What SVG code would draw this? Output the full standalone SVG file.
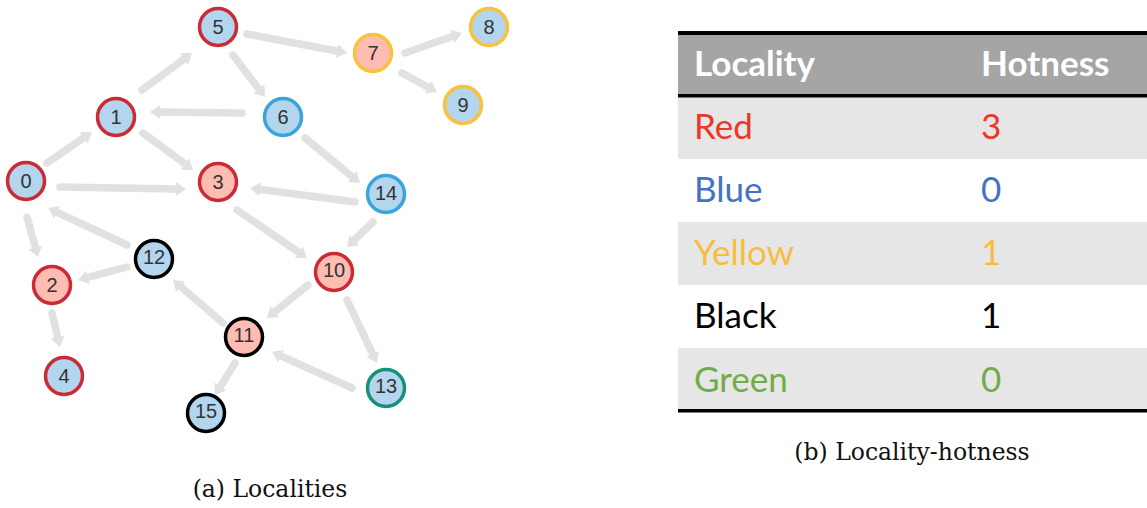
<svg xmlns="http://www.w3.org/2000/svg" width="1147" height="508" viewBox="0 0 1147 508">
<style>
.edge{fill:none;stroke:#e1e1e1;stroke-width:7.5;stroke-linecap:round;marker-end:url(#ah)}
.n circle{stroke-width:3.5}
.n text{font-family:"Liberation Sans",Arial,sans-serif;font-size:20px;fill:#333;text-anchor:middle}
.blue{fill:#b3d5ee}
.pink{fill:#ffbcb3}
.sr{stroke:#cc2a36}
.sy{stroke:#f8c23a}
.sb{stroke:#3aa4db}
.sk{stroke:#000}
.sg{stroke:#17917a}
.tt{font-family:Lato,"Open Sans",sans-serif;font-size:35px}
.cap{font-family:"DejaVu Serif","Liberation Serif",serif;font-size:23.5px;fill:#111;text-anchor:middle}
</style>
<defs>
<marker id="ah" markerUnits="userSpaceOnUse" markerWidth="14" markerHeight="16" viewBox="0 -8 11 16" refX="1" refY="0" orient="auto">
<path d="M0,-7 L10,0 L0,7 Z" fill="#e1e1e1"/>
</marker>
</defs>
<rect width="1147" height="508" fill="#fff"/>
<g id="connectors">
<path class="edge" d="M47,163 L84.6,137.1"/>
<path class="edge" d="M142,90 L184.8,58.4"/>
<path class="edge" d="M242,113 L159,112.1"/>
<path class="edge" d="M143,133 L185.8,164.6"/>
<path class="edge" d="M60,187 L177,188.9"/>
<path class="edge" d="M247,34 L338.2,51.3"/>
<path class="edge" d="M233,55 L259.5,89.8"/>
<path class="edge" d="M405,53 L453.5,36"/>
<path class="edge" d="M402,73 L429.1,87.7"/>
<path class="edge" d="M305,138 L353,177.3"/>
<path class="edge" d="M355,202 L258.9,189.2"/>
<path class="edge" d="M237,210 L299.6,252.9"/>
<path class="edge" d="M373,222 L353.5,240.8"/>
<path class="edge" d="M308,285 L274,312.4"/>
<path class="edge" d="M347,300 L373.1,354.9"/>
<path class="edge" d="M352,388 L280.2,355.7"/>
<path class="edge" d="M223,323 L179.8,285.9"/>
<path class="edge" d="M235,363 L219.8,387.4"/>
<path class="edge" d="M127,245 L56.2,211.8"/>
<path class="edge" d="M127,267 L86.7,277.7"/>
<path class="edge" d="M27,217 L35.6,248.3"/>
<path class="edge" d="M52,313 L57.9,338.2"/>
</g>
<g id="node0" class="n"><circle cx="26" cy="181" r="18.5" class="blue sr"/><text x="26" y="188">0</text></g>
<g id="node1" class="n"><circle cx="116" cy="117" r="18.5" class="blue sr"/><text x="116" y="124">1</text></g>
<g id="node2" class="n"><circle cx="52" cy="285" r="18.5" class="pink sr"/><text x="52" y="292">2</text></g>
<g id="node3" class="n"><circle cx="218" cy="182" r="18.5" class="pink sr"/><text x="218" y="189">3</text></g>
<g id="node4" class="n"><circle cx="64" cy="376" r="18.5" class="blue sr"/><text x="64" y="383">4</text></g>
<g id="node5" class="n"><circle cx="218" cy="27" r="18.5" class="blue sr"/><text x="218" y="34">5</text></g>
<g id="node6" class="n"><circle cx="283" cy="117" r="18.5" class="blue sb"/><text x="283" y="124">6</text></g>
<g id="node7" class="n"><circle cx="373" cy="53" r="18.5" class="pink sy"/><text x="373" y="60">7</text></g>
<g id="node8" class="n"><circle cx="489" cy="27" r="18.5" class="blue sy"/><text x="489" y="34">8</text></g>
<g id="node9" class="n"><circle cx="463" cy="105" r="18.5" class="blue sy"/><text x="463" y="112">9</text></g>
<g id="node10" class="n"><circle cx="334" cy="272" r="18.5" class="pink sr"/><text x="334" y="277">10</text></g>
<g id="node11" class="n"><circle cx="244" cy="337" r="18.5" class="pink sk"/><text x="244" y="342">11</text></g>
<g id="node12" class="n"><circle cx="154" cy="259" r="18.5" class="blue sk"/><text x="154" y="264">12</text></g>
<g id="node13" class="n"><circle cx="386" cy="388" r="18.5" class="blue sg"/><text x="386" y="393">13</text></g>
<g id="node14" class="n"><circle cx="386" cy="194" r="18.5" class="blue sb"/><text x="386" y="200">14</text></g>
<g id="node15" class="n"><circle cx="206" cy="413" r="18.5" class="blue sk"/><text x="206" y="418">15</text></g>
<text class="cap" x="270" y="497">(a) Localities</text>
<g id="table">
<rect x="678" y="33" width="469" height="63" fill="#a5a5a5"/>
<rect x="678" y="96" width="469" height="63" fill="#e6e6e6"/>
<rect x="678" y="222" width="469" height="63" fill="#e6e6e6"/>
<rect x="678" y="348" width="469" height="63" fill="#e6e6e6"/>
<rect x="678" y="31" width="469" height="4" fill="#000"/>
<rect x="678" y="94" width="469" height="3.5" fill="#000"/>
<rect x="678" y="409" width="469" height="3.5" fill="#000"/>
<text class="tt" x="694" y="76" font-weight="bold" fill="#fff">Locality</text>
<text class="tt" x="981" y="76" font-weight="bold" fill="#fff">Hotness</text>
<text class="tt" x="694" y="139" fill="#e8392a">Red</text>
<text class="tt" x="981" y="139" fill="#e8392a">3</text>
<text class="tt" x="694" y="202" fill="#4472c4">Blue</text>
<text class="tt" x="981" y="202" fill="#4472c4">0</text>
<text class="tt" x="694" y="265" fill="#f6bd3f">Yellow</text>
<text class="tt" x="981" y="265" fill="#f6bd3f">1</text>
<text class="tt" x="694" y="328" fill="#000">Black</text>
<text class="tt" x="981" y="328" fill="#000">1</text>
<text class="tt" x="694" y="392" fill="#70ad47">Green</text>
<text class="tt" x="981" y="392" fill="#70ad47">0</text>
</g>
<text class="cap" x="912" y="460">(b) Locality-hotness</text>
</svg>
